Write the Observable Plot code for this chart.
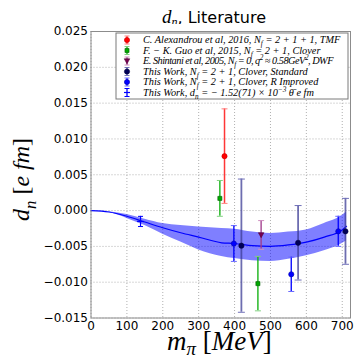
<!DOCTYPE html>
<html><head><meta charset="utf-8">
<script src="https://cdn.jsdelivr.net/npm/d3@7"></script>
<script src="https://cdn.jsdelivr.net/npm/@observablehq/plot@0.6"></script>
<style>
body{margin:0;background:#fff;width:354px;height:359px;overflow:hidden;position:relative}
#title{position:absolute;left:84px;width:260px;top:10px;text-align:center;font-family:"DejaVu Sans";font-size:16px;line-height:14px;white-space:nowrap}
#title .m{font-family:"Liberation Serif";font-style:italic;font-size:19px}
#title sub{font-size:12px;line-height:0;vertical-align:-3px}
#chart{position:absolute;left:0;top:24px}
</style></head><body>
<div id="title"><span class="m">d<sub>n</sub></span>, Literature</div>
<div id="chart"></div>
<script>
// ---- data ----
const xTicks = [0, 100, 200, 300, 400, 500, 600, 700];
const yTicks = [-0.015, -0.010, -0.005, 0.000, 0.005, 0.010, 0.015, 0.020, 0.025];

const alexM = [372], alexD = [0.0076], alexE = [0.0066];
const guoM = [359, 465], guoD = [0.0017, -0.0102], guoE = [0.0025, 0.0038];
const shinM = [474], shinD = [-0.0034], shinE = [0.0020];
const stdM = [419, 577, 709], stdD = [-0.0049, -0.0045, -0.0029], stdE = [0.0093, 0.0052, 0.0046];
const rimpM = [398, 558, 689], rimpD = [-0.0046, -0.0089, -0.0029], rimpE = [0.0025, 0.0024, 0.0021];
const physM = [138], physD = [-0.00152], physE = [0.00071];

const fitM   = [0, 50, 100, 150, 200, 250, 300, 364, 400, 450, 500, 550, 600, 650, 700, 712];
const fitMid = [0, -0.0002, -0.0008, -0.0016, -0.0024, -0.0031, -0.0037, -0.0045, -0.0046, -0.0049, -0.0050, -0.0048, -0.0044, -0.0037, -0.0027, -0.0022];
const fitLo  = [0, -0.00025, -0.0011, -0.0021, -0.0033, -0.0044, -0.0055, -0.0064, -0.0067, -0.0070, -0.0071, -0.0068, -0.0063, -0.0056, -0.0046, -0.0042];
const fitHi  = [0, -0.00015, -0.00056, -0.0012, -0.0018, -0.0021, -0.0023, -0.0025, -0.0026, -0.0030, -0.0032, -0.0030, -0.0027, -0.0018, -0.0007, -0.0002];

// ---- build tables ----
const rows = (m, d, e) => m.map((v, i) => ({m: v, d: d[i], e: e[i]}));
const fit = fitM.map((v, i) => ({m: v, mid: fitMid[i], lo: fitLo[i], hi: fitHi[i]}));

const capSym = {draw(ctx, size) { const w = Math.sqrt(size / Math.PI); ctx.moveTo(-w, 0); ctx.lineTo(w, 0); }};
const triDown = {draw(ctx, size) { const r = Math.sqrt(size / Math.PI) * 1.2; ctx.moveTo(-r, -r * 0.8); ctx.lineTo(r, -r * 0.8); ctx.lineTo(0, r); ctx.closePath(); }};

function err(data, bar, cap, bw, cr, op) {
  return [
    Plot.ruleX(data, {x: "m", y1: r => r.d - r.e, y2: r => r.d + r.e, stroke: bar, strokeWidth: bw, strokeOpacity: op}),
    Plot.dot(data, {x: "m", y: r => r.d - r.e, symbol: capSym, r: cr, stroke: cap, fill: "none", strokeWidth: 1}),
    Plot.dot(data, {x: "m", y: r => r.d + r.e, symbol: capSym, r: cr, stroke: cap, fill: "none", strokeWidth: 1})
  ];
}

const S = {
  alex: {bar: "#ff2020", cap: "#ff8080", mk: "#ff0000", ed: "#cc0000", sym: "circle"},
  guo: {bar: "#10b010", cap: "#80d080", mk: "#00aa00", ed: "#006000", sym: "square"},
  shin: {bar: "#a03c8c", cap: "#d090c0", mk: "#78004e", ed: "#50003a", sym: triDown},
  std: {bar: "#3c3c96", cap: "#7070b8", mk: "#000058", ed: "#000040", sym: "circle"},
  rimp: {bar: "#0000ff", cap: "#6a6aff", mk: "#0000ff", ed: "#0000b0", sym: "circle"},
  phys: {bar: "#0000ff", cap: "#0000ff"}
};

const plot = Plot.plot({
  width: 354, height: 335,
  marginTop: 7, marginBottom: 41.5, marginLeft: 90.5, marginRight: 4,
  x: {domain: [0, 723], ticks: xTicks, tickSize: 0, tickPadding: 3, label: null},
  y: {domain: [-0.015, 0.025], ticks: yTicks, tickFormat: d3.format(".3f"), tickSize: 0, tickPadding: 3, label: null},
  style: {fontFamily: "DejaVu Sans", fontSize: "12px", color: "#000", background: "#fff", overflow: "visible"},
  marks: [
    Plot.gridX(xTicks, {stroke: "#b0b0b0", strokeOpacity: 1, strokeDasharray: "1,2"}),
    Plot.gridY(yTicks, {stroke: "#b0b0b0", strokeOpacity: 1, strokeDasharray: "1,2"}),
    Plot.areaY(fit, {x: "m", y1: "lo", y2: "hi", fill: "#0000ff", fillOpacity: 0.5, curve: "monotone-x"}),
    Plot.lineY(fit, {x: "m", y: "mid", stroke: "#0000ff", strokeWidth: 1.2, curve: "monotone-x"}),
    ...err(rows(physM, physD, physE), S.phys.bar, S.phys.cap, 1.2, 2.5, 1),
    Plot.dot(rows(physM, physD, physE), {x: "m", y: "d", symbol: capSym, r: 3.5, stroke: "#0000ff", strokeWidth: 1.2}),
    ...err(rows(alexM, alexD, alexE), S.alex.bar, S.alex.cap, 1.5, 3, 0.9),
    ...err(rows(guoM, guoD, guoE), S.guo.bar, S.guo.cap, 1.5, 3, 0.9),
    ...err(rows(shinM, shinD, shinE), S.shin.bar, S.shin.cap, 1.5, 3, 0.9),
    ...err(rows(stdM, stdD, stdE), S.std.bar, S.std.cap, 1.8, 3.5, 0.75),
    ...err(rows(rimpM, rimpD, rimpE), S.rimp.bar, S.rimp.cap, 1.5, 3, 0.9),
    Plot.dot(rows(alexM, alexD, alexE), {x: "m", y: "d", r: 2.6, fill: S.alex.mk, stroke: S.alex.ed, strokeWidth: 0.6}),
    Plot.dot(rows(guoM, guoD, guoE), {x: "m", y: "d", r: 2.3, symbol: "square", fill: S.guo.mk, stroke: S.guo.ed, strokeWidth: 0.6}),
    Plot.dot(rows(shinM, shinD, shinE), {x: "m", y: "d", r: 2.3, symbol: triDown, fill: S.shin.mk, stroke: S.shin.ed, strokeWidth: 0.6}),
    Plot.dot(rows(stdM, stdD, stdE), {x: "m", y: "d", r: 2.6, fill: S.std.mk, stroke: S.std.ed, strokeWidth: 0.6}),
    Plot.dot(rows(rimpM, rimpD, rimpE), {x: "m", y: "d", r: 2.6, fill: S.rimp.mk, stroke: S.rimp.ed, strokeWidth: 0.6}),
    Plot.frame({stroke: "#8c8c8c", strokeWidth: 1})
  ]
});
document.getElementById("chart").appendChild(plot);

// ---- rich text helper ----
function rich(text, parts, size, subShift = 0.28) {
  let shift = 0;
  parts.forEach(p => {
    const [t, k] = typeof p === "string" ? [p, ""] : p;
    const target = k === "sub" ? size * subShift : k === "sup" ? -size * 0.38 : 0;
    const ts = text.append("tspan").text(t).attr("dy", target - shift);
    if (k === "sub" || k === "sup") ts.attr("font-size", size * 0.7);
    if (k === "up") ts.attr("font-style", "normal");
    shift = target;
  });
}

const svg = d3.select(plot);
const T = 24;

// axis labels
const yl = svg.append("text")
  .attr("transform", `translate(29,${221 - T}) rotate(-90)`)
  .attr("text-anchor", "start").attr("x", 0).attr("y", 0)
  .attr("font-family", "Liberation Serif").attr("font-style", "italic").attr("font-size", 24).attr("fill", "#000");
rich(yl, ["d", ["n", "sub"], " ", ["[", "up"], "e fm", ["]", "up"]], 24);

const xl = svg.append("text")
  .attr("x", 167).attr("y", 350 - T)
  .attr("text-anchor", "start")
  .attr("font-family", "Liberation Serif").attr("font-style", "italic").attr("font-size", 27).attr("fill", "#000");
rich(xl, ["m", ["π", "sub"], " ", ["[", "up"], "MeV", ["]", "up"]], 27, 0.2);

// legend
const lg = svg.append("g");
const L = {x: 116, y: 33 - T, w: 232, h: 66};
lg.append("rect").attr("x", L.x).attr("y", L.y).attr("width", L.w).attr("height", L.h)
  .attr("fill", "#fff").attr("stroke", "#7a7a7a").attr("stroke-width", 1);

const entries = [
  {s: S.alex, parts: ["C. Alexandrou et al, 2016, N", ["f", "sub"], " = 2 + 1 + 1, TMF"]},
  {s: S.guo, parts: ["F. − K. Guo et al, 2015, N", ["f", "sub"], " = 2 + 1, Clover"]},
  {s: S.shin, parts: ["E. Shintani et al, 2005, N", ["f", "sub"], " = 0, q", ["2", "sup"], " ≈ 0.58GeV", ["2", "sup"], ", DWF"], ls: -0.5},
  {s: S.std, parts: ["This Work, N", ["f", "sub"], " = 2 + 1, Clover, Standard"]},
  {s: S.rimp, parts: ["This Work, N", ["f", "sub"], " = 2 + 1, Clover, R Improved"]},
  {s: S.phys, parts: ["This Work, d", ["n", "sub"], " = − 1.52(71) × 10", ["−3", "sup"], " θ̄ e fm"], phys: true}
];
const symPath = (sym, r) => d3.symbol().type(
  sym === "square" ? d3.symbolSquare : sym === "circle" ? d3.symbolCircle : sym
).size(r * r * Math.PI)();

const FS = 10.3;
entries.forEach((e, i) => {
  const cy = L.y + 7 + i * 10.5, cx = 127;
  const g = lg.append("g");
  g.append("line").attr("x1", cx).attr("x2", cx).attr("y1", cy - 4).attr("y2", cy + 4)
    .attr("stroke", e.s.bar).attr("stroke-width", 1.3);
  [cy - 4, cy + 4].forEach(yy => g.append("line").attr("x1", cx - 2.5).attr("x2", cx + 2.5)
    .attr("y1", yy).attr("y2", yy).attr("stroke", e.s.cap).attr("stroke-width", 1));
  if (e.phys) {
    g.append("line").attr("x1", cx - 3).attr("x2", cx + 3).attr("y1", cy).attr("y2", cy)
      .attr("stroke", "#0000ff").attr("stroke-width", 1.2);
  } else {
    g.append("path").attr("transform", `translate(${cx},${cy})`)
      .attr("d", symPath(e.s.sym, e.s.sym === "circle" ? 2.6 : 2.3))
      .attr("fill", e.s.mk).attr("stroke", e.s.ed).attr("stroke-width", 0.6);
  }
  const t = g.append("text").attr("x", 143).attr("y", cy + 3.2).attr("text-anchor", "start")
    .attr("font-family", "Liberation Serif").attr("font-style", "italic")
    .attr("font-size", FS).attr("fill", "#000");
  if (e.ls) t.attr("letter-spacing", e.ls);
  rich(t, e.parts, FS);
});
</script>
</body></html>
